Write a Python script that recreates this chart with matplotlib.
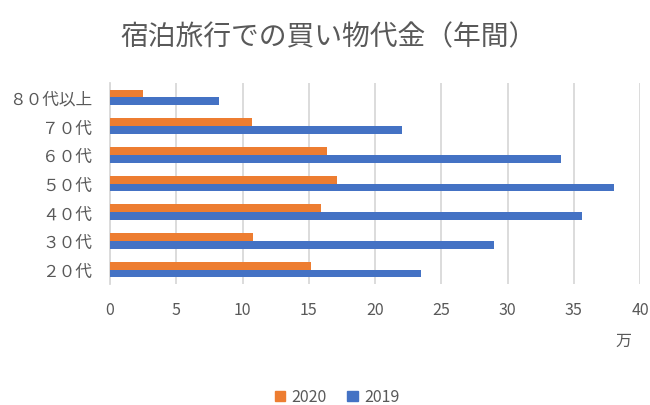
import numpy as np
import matplotlib.pyplot as plt
from matplotlib.patches import Patch

plt.rcParams['font.family'] = ['Noto Sans CJK JP', 'DejaVu Sans']

categories = ["２０代", "３０代", "４０代", "５０代", "６０代", "７０代", "８０代以上"]
values_2020 = [15.2, 10.8, 15.9, 17.1, 16.4, 10.7, 2.5]
values_2019 = [23.5, 29.0, 35.6, 38.0, 34.0, 22.0, 8.2]

ORANGE = "#ED7D31"
BLUE = "#4472C4"
TEXT = "#595959"
GRID = "#D9D9D9"

fig = plt.figure(figsize=(6.5, 4.06), dpi=100)
# plot area: x 110..640 px, y 84..285 px
ax = fig.add_axes([110 / 650, 1 - 285 / 406, 530 / 650, 201 / 406])

y = np.arange(len(categories))
h = 0.27
ax.barh(y + h / 2, values_2020, height=h, color=ORANGE, zorder=3)
ax.barh(y - h / 2, values_2019, height=h, color=BLUE, zorder=3)

ax.set_xlim(0, 40)
ax.set_ylim(-0.5, len(categories) - 0.5)
ax.set_xticks(np.arange(0, 41, 5))
ax.set_yticks(y)
ax.set_yticklabels(categories)
ax.grid(axis="x", color=GRID, linewidth=1.3, zorder=0)
for s in ["top", "right", "bottom"]:
    ax.spines[s].set_visible(False)
ax.spines["left"].set_color(GRID)
ax.spines["left"].set_linewidth(1.3)
ax.tick_params(axis="x", length=0, pad=12, labelsize=11.5, labelcolor=TEXT)
ax.tick_params(axis="y", length=0, pad=13, labelsize=12, labelcolor=TEXT)

fig.text(329 / 650, 1 - 37 / 406, "宿泊旅行での買い物代金（年間）", ha="center", va="center",
         fontsize=20, color=TEXT)
fig.text(623 / 650, 1 - 341 / 406, "万", ha="center", va="center",
         fontsize=11.5, color=TEXT)

handles = [Patch(color=ORANGE, label="2020"), Patch(color=BLUE, label="2019")]
fig.legend(handles=handles, loc="center", bbox_to_anchor=(337 / 650, 1 - 398 / 406),
           ncol=2, frameon=False, fontsize=11.5, labelcolor=TEXT,
           handlelength=0.65, handleheight=0.65, handletextpad=0.4, columnspacing=1.3)

fig.savefig("out.png", dpi=100)
